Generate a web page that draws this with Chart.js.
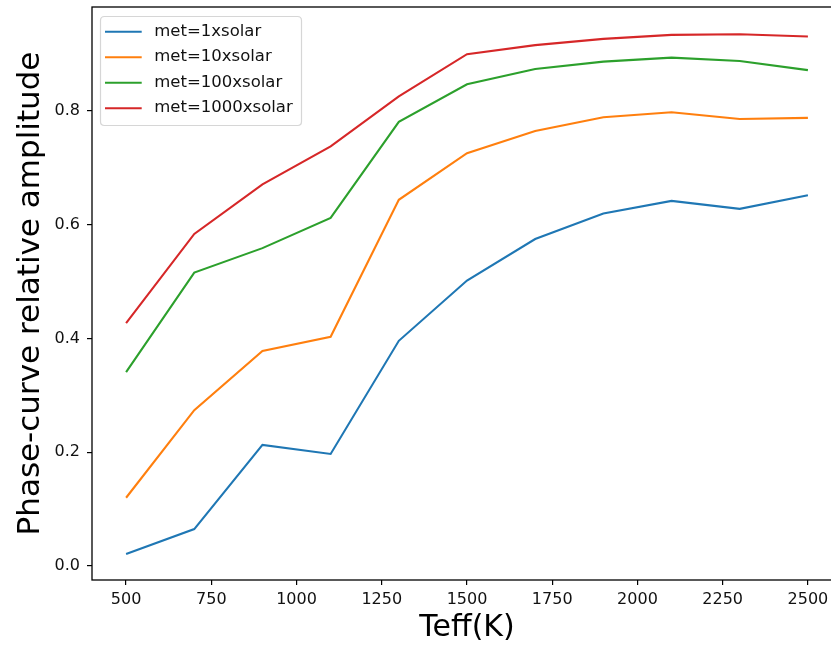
<!DOCTYPE html>
<html>
<head>
<meta charset="utf-8">
<script src="https://cdn.jsdelivr.net/npm/chart.js@4"></script>
<style>
  html, body { margin: 0; padding: 0; background: #fff; overflow: hidden; }
  canvas { display: block; }
</style>
</head>
<body>
<canvas id="c" width="831" height="646"></canvas>
<script>
const teff = [500, 700, 900, 1100, 1300, 1500, 1700, 1900, 2100, 2300, 2500];
const met1 = [0.021, 0.065, 0.213, 0.197, 0.396, 0.502, 0.575, 0.620, 0.642, 0.628, 0.652];
const met10 = [0.120, 0.274, 0.378, 0.403, 0.644, 0.726, 0.765, 0.789, 0.798, 0.786, 0.788];
const met100 = [0.341, 0.516, 0.559, 0.612, 0.781, 0.847, 0.874, 0.887, 0.894, 0.888, 0.872];
const met1000 = [0.427, 0.584, 0.671, 0.738, 0.826, 0.900, 0.916, 0.927, 0.934, 0.935, 0.931];
const seriesNames = ['met=1xsolar', 'met=10xsolar', 'met=100xsolar', 'met=1000xsolar'];
const xTicks = [500, 750, 1000, 1250, 1500, 1750, 2000, 2250, 2500];
const yTicks = [0.0, 0.2, 0.4, 0.6, 0.8];

const colors = ['#1f77b4', '#ff7f0e', '#2ca02c', '#d62728'];
const allSeries = [met1, met10, met100, met1000];

const datasets = allSeries.map((vals, i) => ({
  label: seriesNames[i],
  data: teff.map((t, j) => ({ x: t, y: vals[j] })),
  borderColor: colors[i],
  backgroundColor: colors[i],
  borderWidth: 2.1,
  pointRadius: 0,
  tension: 0,
  fill: false
}));

const FONT = "'DejaVu Sans', sans-serif";
const PLOT_RIGHT = 842; // axes extend past the visible window, as in the reference

const extendPlugin = {
  id: 'extendRight',
  afterLayout(chart) {
    const xs = chart.scales.x;
    const extra = PLOT_RIGHT - xs.right;
    if (extra > 0) {
      xs.right += extra;
      xs.width += extra;
      xs.configure();
      chart.chartArea.right = PLOT_RIGHT;
      chart.chartArea.width = PLOT_RIGHT - chart.chartArea.left;
    }
  }
};

const framePlugin = {
  id: 'frame',
  afterDatasetsDraw(chart) {
    const { ctx, chartArea: a } = chart;
    ctx.save();
    ctx.strokeStyle = '#000';
    ctx.lineWidth = 1.3;
    ctx.strokeRect(a.left, a.top, a.right - a.left, a.bottom - a.top);
    ctx.restore();
  }
};

const legendPlugin = {
  id: 'boxLegend',
  afterDraw(chart) {
    const { ctx } = chart;
    const x0 = 100.5, y0 = 16.5, w = 201, h = 109, r = 4;
    ctx.save();
    ctx.beginPath();
    ctx.moveTo(x0 + r, y0);
    ctx.lineTo(x0 + w - r, y0);
    ctx.quadraticCurveTo(x0 + w, y0, x0 + w, y0 + r);
    ctx.lineTo(x0 + w, y0 + h - r);
    ctx.quadraticCurveTo(x0 + w, y0 + h, x0 + w - r, y0 + h);
    ctx.lineTo(x0 + r, y0 + h);
    ctx.quadraticCurveTo(x0, y0 + h, x0, y0 + h - r);
    ctx.lineTo(x0, y0 + r);
    ctx.quadraticCurveTo(x0, y0, x0 + r, y0);
    ctx.closePath();
    ctx.fillStyle = 'rgba(255,255,255,0.8)';
    ctx.fill();
    ctx.strokeStyle = 'rgba(204,204,204,0.8)';
    ctx.lineWidth = 1.2;
    ctx.stroke();
    ctx.font = "16.5px " + FONT;
    ctx.textBaseline = 'middle';
    ctx.textAlign = 'left';
    chart.data.datasets.forEach((ds, i) => {
      const y = 31.7 + i * 25.5;
      ctx.strokeStyle = ds.borderColor;
      ctx.lineWidth = 2.1;
      ctx.beginPath();
      ctx.moveTo(105, y);
      ctx.lineTo(141.7, y);
      ctx.stroke();
      ctx.fillStyle = '#111';
      ctx.fillText(ds.label, 154.3, y);
    });
    ctx.restore();
  }
};

new Chart(document.getElementById('c'), {
  type: 'line',
  data: { datasets },
  options: {
    responsive: false,
    animation: false,
    devicePixelRatio: 1,
    layout: { padding: { top: 7, right: 0, bottom: 0, left: 0 } },
    plugins: {
      legend: { display: false },
      tooltip: { enabled: false }
    },
    scales: {
      x: {
        type: 'linear',
        min: 400,
        max: 2600,
        afterBuildTicks: (s) => { s.ticks = xTicks.map(v => ({ value: v })); },
        afterFit: (s) => { s.height = 66; s.paddingLeft = 0; s.paddingRight = 0; },
        border: { display: false },
        grid: { drawOnChartArea: false, drawTicks: true, tickLength: 5, color: '#000', lineWidth: 1.2 },
        ticks: {
          autoSkip: false,
          maxRotation: 0,
          padding: 5,
          color: '#111',
          font: { family: FONT, size: 16 },
          callback: (v) => String(v)
        },
        title: {
          display: true,
          text: 'Teff(K)',
          color: '#000',
          font: { family: FONT, size: 30, lineHeight: 1 },
          padding: { top: 0, bottom: 3 }
        }
      },
      y: {
        type: 'linear',
        min: -0.0246,
        max: 0.983,
        afterBuildTicks: (s) => { s.ticks = yTicks.map(v => ({ value: v })); },
        afterFit: (s) => { s.width = 92; s.paddingTop = 0; s.paddingBottom = 0; },
        border: { display: false },
        grid: { drawOnChartArea: false, drawTicks: true, tickLength: 5, color: '#000', lineWidth: 1.2 },
        ticks: {
          autoSkip: false,
          padding: 7,
          color: '#111',
          font: { family: FONT, size: 16 },
          callback: (v) => Number(v).toFixed(1)
        },
        title: {
          display: true,
          text: 'Phase-curve relative amplitude',
          color: '#000',
          font: { family: FONT, size: 31, lineHeight: 1 },
          padding: { top: 15.5, bottom: 0 }
        }
      }
    }
  },
  plugins: [extendPlugin, framePlugin, legendPlugin]
});
</script>
</body>
</html>
